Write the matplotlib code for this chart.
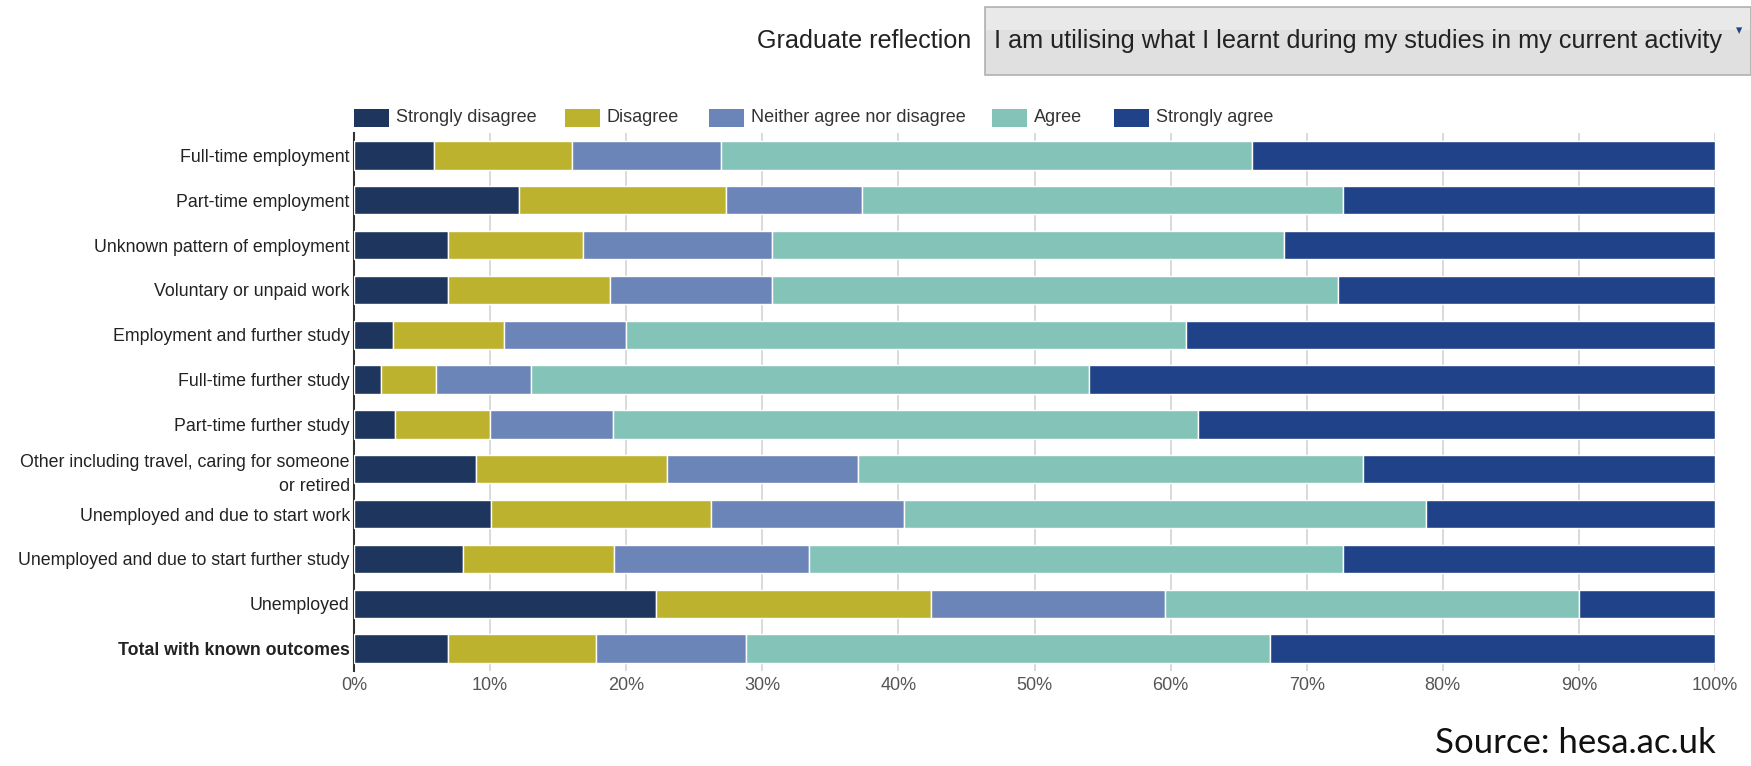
import matplotlib
matplotlib.use("Agg")
import matplotlib.pyplot as plt
from matplotlib.patches import Rectangle
import numpy as np

plt.rcParams['font.family'] = ['Liberation Sans', 'DejaVu Sans']

categories = [
    "Full-time employment",
    "Part-time employment",
    "Unknown pattern of employment",
    "Voluntary or unpaid work",
    "Employment and further study",
    "Full-time further study",
    "Part-time further study",
    "Other including travel, caring for someone\nor retired",
    "Unemployed and due to start work",
    "Unemployed and due to start further study",
    "Unemployed",
    "Total with known outcomes",
]
series_names = ["Strongly disagree", "Disagree", "Neither agree nor disagree", "Agree", "Strongly agree"]
strongly_disagree = [5.9, 12.1, 6.9, 6.9, 2.9, 2.0, 3.0, 9.0, 10.1, 8.0, 22.2, 6.9]
disagree          = [10.1, 15.2, 9.9, 11.9, 8.1, 4.0, 7.0, 14.0, 16.1, 11.1, 20.2, 10.9]
neither           = [11.0, 10.0, 13.9, 11.9, 9.0, 7.0, 9.0, 14.0, 14.2, 14.3, 17.2, 11.0]
agree             = [39.0, 35.4, 37.6, 41.6, 41.1, 41.0, 43.0, 37.1, 38.4, 39.3, 30.4, 38.5]
strongly_agree    = [34.0, 27.3, 31.7, 27.7, 38.9, 46.0, 38.0, 25.9, 21.2, 27.3, 10.0, 32.7]
colors = ['#1e355e', '#bdb22e', '#6c85b8', '#84c4b8', '#1f4288']
xticks = [0, 10, 20, 30, 40, 50, 60, 70, 80, 90, 100]

W, H = 1751, 766
fig = plt.figure(figsize=(W/100, H/100), dpi=100)
ax = fig.add_axes([354/W, 1-671/H, (1715-354)/W, (671-133)/H])

y = np.arange(len(categories))
left = np.zeros(len(categories))
for name, vals, c in zip(series_names, [strongly_disagree, disagree, neither, agree, strongly_agree], colors):
    v = np.array(vals)
    ax.barh(y, v, left=left, height=0.63, color=c, edgecolor='white', linewidth=1.0, zorder=3)
    left += v

ax.set_xlim(0, 100)
ax.set_ylim(len(categories)-0.5, -0.5)
ax.set_xticks(xticks)
ax.set_xticklabels([f"{t}%" for t in xticks], fontsize=13, color='#555555')
ax.set_yticks(y)
ax.set_yticklabels(categories, fontsize=12.8, color='#222222', linespacing=1.5)
ax.get_yticklabels()[-1].set_fontweight('bold')
ax.tick_params(axis='both', length=0)
ax.tick_params(axis='x', pad=4)
ax.tick_params(axis='y', pad=3)
ax.grid(axis='x', color='#d3d3d3', linewidth=1.2, zorder=0)
for s in ['top', 'right', 'bottom']:
    ax.spines[s].set_visible(False)
ax.spines['left'].set_color('#333333')
ax.spines['left'].set_linewidth(1.5)

# legend (manual)
leg_x = [354, 565, 709, 992, 1114]
for lx, name, c in zip(leg_x, series_names, colors):
    fig.patches.append(Rectangle((lx/W, 1-(118+9)/H), 35/W, 18/H, transform=fig.transFigure,
                                 facecolor=c, edgecolor='none'))
    fig.text((lx+42)/W, 1-118/H, name, fontsize=13, color='#333333', va='center', ha='left')

# header dropdown
fig.patches.append(Rectangle((985/W, 1-75/H), (W-985)/W, 68/H, transform=fig.transFigure,
                             facecolor='#e0e0e0', edgecolor='#b0b0b0', linewidth=1.2))
fig.patches.append(Rectangle((986/W, 1-30/H), (W-987)/W, 22/H, transform=fig.transFigure,
                             facecolor='#e9e9e9', edgecolor='none'))
fig.text(971/W, 1-41/H, "Graduate reflection", fontsize=18.1, color='#222222', va='center', ha='right')
fig.text(994/W, 1-41/H, "I am utilising what I learnt during my studies in my current activity",
         fontsize=18.2, color='#222222', va='center', ha='left')
fig.text(1739/W, 1-31/H, "\u25BE", fontsize=9, color='#1f4288', va='center', ha='center',
         family=['DejaVu Sans'])

fig.text(1716/W, 1-743/H, "Source: hesa.ac.uk", fontsize=25, color='#111111', va='center', ha='right',
         family=['Lato', 'DejaVu Sans'])

fig.savefig("out.png", dpi=100)
